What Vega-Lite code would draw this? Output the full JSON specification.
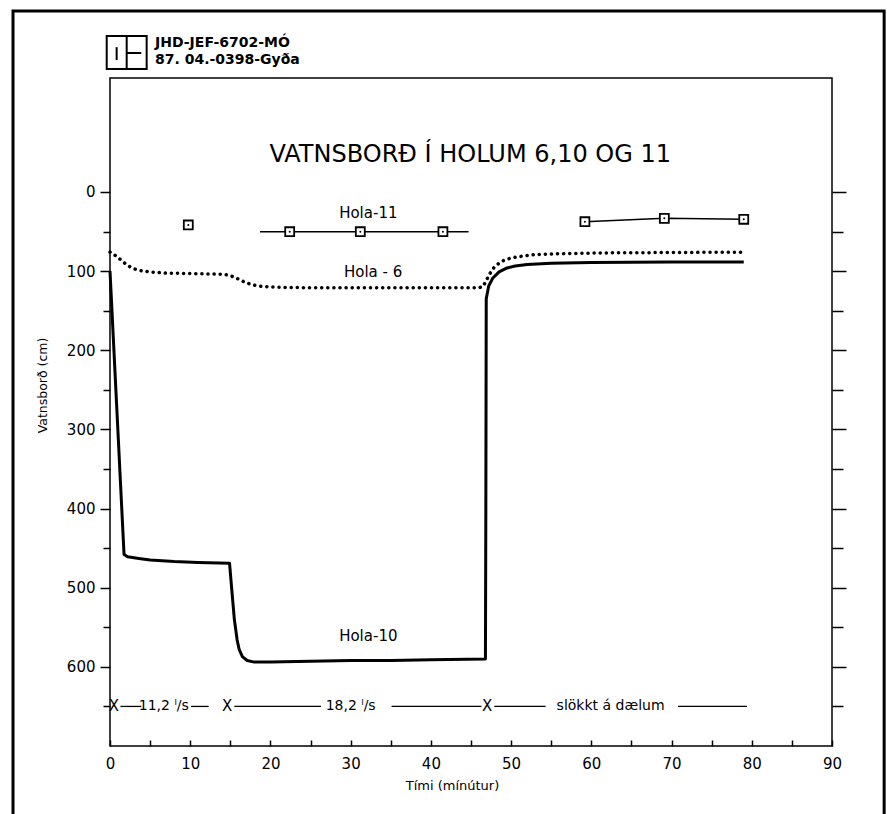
{
  "$schema": "https://vega.github.io/schema/vega-lite/v6.json",
  "width": 722,
  "height": 668,
  "autosize": {"type": "none"},
  "padding": {"left": 110, "top": 78, "right": 55, "bottom": 68},
  "background": "white",
  "config": {
    "view": {"stroke": "black", "strokeWidth": 1.5},
    "font": "DejaVu Sans",
    "text": {"font": "DejaVu Sans", "color": "black"}
  },
  "datasets": {
    "h10": [
      {"t": 0, "cm": 100}, {"t": 1.75, "cm": 458}, {"t": 2.2, "cm": 461}, {"t": 3.6, "cm": 463},
      {"t": 5, "cm": 465}, {"t": 8, "cm": 467}, {"t": 11, "cm": 468}, {"t": 14.9, "cm": 469},
      {"t": 15.2, "cm": 505}, {"t": 15.5, "cm": 540}, {"t": 15.85, "cm": 566}, {"t": 16.1, "cm": 578},
      {"t": 16.5, "cm": 587}, {"t": 17.1, "cm": 592}, {"t": 18, "cm": 594}, {"t": 20, "cm": 594},
      {"t": 25, "cm": 593}, {"t": 30, "cm": 592}, {"t": 35, "cm": 592}, {"t": 40, "cm": 591},
      {"t": 46.8, "cm": 590}, {"t": 46.85, "cm": 400}, {"t": 46.9, "cm": 135}, {"t": 47.2, "cm": 119},
      {"t": 47.7, "cm": 109}, {"t": 48.5, "cm": 101}, {"t": 49.5, "cm": 96}, {"t": 50.5, "cm": 93.5},
      {"t": 52, "cm": 91.5}, {"t": 55, "cm": 90}, {"t": 60, "cm": 89}, {"t": 70, "cm": 88.5}, {"t": 79, "cm": 88.5}
    ],
    "h6": [
      {"t": 0, "cm": 76}, {"t": 0.5, "cm": 79}, {"t": 1.0, "cm": 83}, {"t": 1.5, "cm": 87},
      {"t": 2.2, "cm": 93}, {"t": 3, "cm": 97}, {"t": 3.6, "cm": 99}, {"t": 4.9, "cm": 101},
      {"t": 7, "cm": 102.5}, {"t": 9.9, "cm": 103}, {"t": 12, "cm": 103.5}, {"t": 14, "cm": 104},
      {"t": 14.8, "cm": 105}, {"t": 15.3, "cm": 107}, {"t": 16, "cm": 110}, {"t": 16.9, "cm": 114.5},
      {"t": 17.8, "cm": 117.5}, {"t": 18.6, "cm": 119}, {"t": 20, "cm": 120}, {"t": 21.5, "cm": 120.5},
      {"t": 25, "cm": 121}, {"t": 30, "cm": 121}, {"t": 35, "cm": 121}, {"t": 40, "cm": 121},
      {"t": 46, "cm": 121}, {"t": 46.5, "cm": 119.5}, {"t": 46.8, "cm": 114}, {"t": 47.3, "cm": 104},
      {"t": 47.9, "cm": 95}, {"t": 48.6, "cm": 89}, {"t": 49.3, "cm": 85.5}, {"t": 50.2, "cm": 83},
      {"t": 51.5, "cm": 81}, {"t": 53.1, "cm": 79}, {"t": 56, "cm": 78}, {"t": 61.4, "cm": 77},
      {"t": 70, "cm": 76.5}, {"t": 78.9, "cm": 76}
    ],
    "h11line": [
      {"seg": "a", "t": 18.7, "cm": 50.2}, {"seg": "a", "t": 44.7, "cm": 50.2},
      {"seg": "b", "t": 59.2, "cm": 37.6}, {"seg": "b", "t": 69.1, "cm": 33.3}, {"seg": "b", "t": 79.0, "cm": 34.5}
    ],
    "h11pts": [
      {"t": 9.76, "cm": 41.7}, {"t": 22.4, "cm": 50.2}, {"t": 31.2, "cm": 50.2}, {"t": 41.5, "cm": 50.2},
      {"t": 59.2, "cm": 37.6}, {"t": 69.1, "cm": 33.3}, {"t": 79.0, "cm": 34.5}
    ],
    "holalabels": [
      {"t": 32.2, "cm": 26.6, "label": "Hola-11"},
      {"t": 32.8, "cm": 101, "label": "Hola - 6"},
      {"t": 32.2, "cm": 561, "label": "Hola-10"}
    ],
    "title": [
      {"t": 44.9, "cm": -46.7, "label": "VATNSBORÐ Í HOLUM 6,10 OG 11"}
    ],
    "annrules": [
      {"t": 1.3, "t2": 3.9, "cm": 650}, {"t": 10.1, "t2": 12.3, "cm": 650},
      {"t": 15.5, "t2": 26.3, "cm": 650}, {"t": 35.1, "t2": 46.3, "cm": 650},
      {"t": 47.9, "t2": 54.3, "cm": 650}, {"t": 70.8, "t2": 79.4, "cm": 650}
    ],
    "anntext": [
      {"t": 6.7, "cm": 650, "label": "11,2 ˡ/s"},
      {"t": 30.0, "cm": 650, "label": "18,2 ˡ/s"},
      {"t": 62.4, "cm": 650, "label": "slökkt á dælum"}
    ],
    "xmarks": [
      {"t": 0.5, "cm": 650, "label": "X"},
      {"t": 14.6, "cm": 650, "label": "X"},
      {"t": 47.0, "cm": 650, "label": "X"}
    ],
    "header": [
      {"t": 5.61, "cm": -188.2, "label": "JHD-JEF-6702-MÓ"},
      {"t": 5.61, "cm": -166.7, "label": "87. 04.-0398-Gyða"}
    ],
    "logobox": [
      {"t": -0.41, "t2": 4.57, "cm": -197, "cm2": -155.4}
    ],
    "logolines": [
      {"t": 2.08, "t2": 2.08, "cm": -197, "cm2": -155.4},
      {"t": 0.83, "t2": 0.83, "cm": -183, "cm2": -166.7},
      {"t": 2.08, "t2": 3.9, "cm": -175.6, "cm2": -175.6}
    ],
    "border": [
      {"t": -12.09, "t2": 96.5, "cm": -228.6, "cm2": 806}
    ]
  },
  "layer": [
    {
      "data": {"name": "h10"},
      "mark": {"type": "line", "color": "black", "strokeWidth": 3, "strokeJoin": "round"},
      "encoding": {
        "x": {
          "field": "t", "type": "quantitative",
          "scale": {"domain": [0, 90], "nice": false, "zero": false},
          "axis": {
            "orient": "bottom",
            "values": [0, 5, 10, 15, 20, 25, 30, 35, 40, 45, 50, 55, 60, 65, 70, 75, 80, 85, 90],
            "labelExpr": "datum.value % 10 === 0 ? datum.label : ''",
            "tickSize": -6, "tickColor": "black", "tickWidth": 1.5,
            "domain": false, "grid": false,
            "labelFontSize": 15, "labelColor": "black", "labelPadding": 16,
            "labelFlush": false,
            "title": "Tími (mínútur)", "titleFontSize": 13, "titleFontWeight": "normal", "titleColor": "black",
            "titleX": 342, "titleY": 39, "titleBaseline": "middle", "titleAlign": "center"
          }
        },
        "y": {
          "field": "cm", "type": "quantitative",
          "scale": {"domain": [-144, 700], "nice": false, "zero": false, "reverse": true},
          "axis": {
            "orient": "left",
            "values": [0, 50, 100, 150, 200, 250, 300, 350, 400, 450, 500, 550, 600, 650],
            "labelExpr": "datum.value % 100 === 0 ? datum.label : ''",
            "tickSize": {"condition": {"test": "datum.value % 100 === 0", "value": 10}, "value": 7},
            "tickColor": "black", "tickWidth": 1.5,
            "domain": false, "grid": false,
            "labelFontSize": 15, "labelColor": "black", "labelPadding": 5,
            "title": "Vatnsborð (cm)", "titleFontSize": 12.5, "titleFontWeight": "normal", "titleColor": "black",
            "titleX": -68, "titleY": 307, "titleAngle": 270, "titleAlign": "center", "titleBaseline": "middle"
          }
        }
      }
    },
    {
      "data": {"name": "h6"},
      "mark": {"type": "line", "color": "black", "strokeWidth": 3.5, "strokeCap": "round", "strokeDash": [0.1, 6]},
      "encoding": {
        "x": {"field": "t", "type": "quantitative"},
        "y": {
          "field": "cm", "type": "quantitative",
          "axis": {
            "orient": "right",
            "values": [0, 50, 100, 150, 200, 250, 300, 350, 400, 450, 500, 550, 600, 650],
            "labels": false,
            "tickSize": {"condition": {"test": "datum.value % 100 === 0", "value": 14}, "value": 11},
            "tickColor": "black", "tickWidth": 1.5,
            "domain": false, "grid": false, "title": null
          }
        }
      }
    },
    {
      "data": {"name": "h11line"},
      "mark": {"type": "line", "color": "black", "strokeWidth": 1.5},
      "encoding": {
        "x": {"field": "t", "type": "quantitative"},
        "y": {"field": "cm", "type": "quantitative", "axis": null},
        "detail": {"field": "seg", "type": "nominal"}
      }
    },
    {
      "data": {"name": "h11pts"},
      "mark": {"type": "point", "shape": "square", "filled": false, "fill": "white", "fillOpacity": 1, "stroke": "black", "strokeWidth": 1.8, "size": 80, "opacity": 1},
      "encoding": {
        "x": {"field": "t", "type": "quantitative"},
        "y": {"field": "cm", "type": "quantitative", "axis": null}
      }
    },
    {
      "data": {"name": "h11pts"},
      "mark": {"type": "point", "shape": "circle", "filled": true, "color": "black", "size": 4, "opacity": 1},
      "encoding": {
        "x": {"field": "t", "type": "quantitative"},
        "y": {"field": "cm", "type": "quantitative", "axis": null}
      }
    },
    {
      "data": {"name": "holalabels"},
      "mark": {"type": "text", "fontSize": 15, "align": "center", "baseline": "middle"},
      "encoding": {
        "x": {"field": "t", "type": "quantitative"},
        "y": {"field": "cm", "type": "quantitative", "axis": null},
        "text": {"field": "label"}
      }
    },
    {
      "data": {"name": "title"},
      "mark": {"type": "text", "fontSize": 24, "align": "center", "baseline": "middle"},
      "encoding": {
        "x": {"field": "t", "type": "quantitative"},
        "y": {"field": "cm", "type": "quantitative", "axis": null},
        "text": {"field": "label"}
      }
    },
    {
      "data": {"name": "annrules"},
      "mark": {"type": "rule", "color": "black", "strokeWidth": 1.3},
      "encoding": {
        "x": {"field": "t", "type": "quantitative"},
        "x2": {"field": "t2"},
        "y": {"field": "cm", "type": "quantitative", "axis": null}
      }
    },
    {
      "data": {"name": "anntext"},
      "mark": {"type": "text", "fontSize": 14, "align": "center", "baseline": "middle"},
      "encoding": {
        "x": {"field": "t", "type": "quantitative"},
        "y": {"field": "cm", "type": "quantitative", "axis": null},
        "text": {"field": "label"}
      }
    },
    {
      "data": {"name": "xmarks"},
      "mark": {"type": "text", "fontSize": 15, "align": "center", "baseline": "middle"},
      "encoding": {
        "x": {"field": "t", "type": "quantitative"},
        "y": {"field": "cm", "type": "quantitative", "axis": null},
        "text": {"field": "label"}
      }
    },
    {
      "data": {"name": "header"},
      "mark": {"type": "text", "fontSize": 14, "fontWeight": "bold", "align": "left", "baseline": "middle"},
      "encoding": {
        "x": {"field": "t", "type": "quantitative"},
        "y": {"field": "cm", "type": "quantitative", "axis": null},
        "text": {"field": "label"}
      }
    },
    {
      "data": {"name": "logobox"},
      "mark": {"type": "rect", "fill": null, "fillOpacity": 0, "stroke": "black", "strokeWidth": 2},
      "encoding": {
        "x": {"field": "t", "type": "quantitative"},
        "x2": {"field": "t2"},
        "y": {"field": "cm", "type": "quantitative", "axis": null},
        "y2": {"field": "cm2"}
      }
    },
    {
      "data": {"name": "logolines"},
      "mark": {"type": "rule", "color": "black", "strokeWidth": 2},
      "encoding": {
        "x": {"field": "t", "type": "quantitative"},
        "x2": {"field": "t2"},
        "y": {"field": "cm", "type": "quantitative", "axis": null},
        "y2": {"field": "cm2"}
      }
    },
    {
      "data": {"name": "border"},
      "mark": {"type": "rect", "fill": null, "fillOpacity": 0, "stroke": "black", "strokeWidth": 3},
      "encoding": {
        "x": {"field": "t", "type": "quantitative"},
        "x2": {"field": "t2"},
        "y": {"field": "cm", "type": "quantitative", "axis": null},
        "y2": {"field": "cm2"}
      }
    }
  ],
  "resolve": {"axis": {"y": "independent"}}
}
